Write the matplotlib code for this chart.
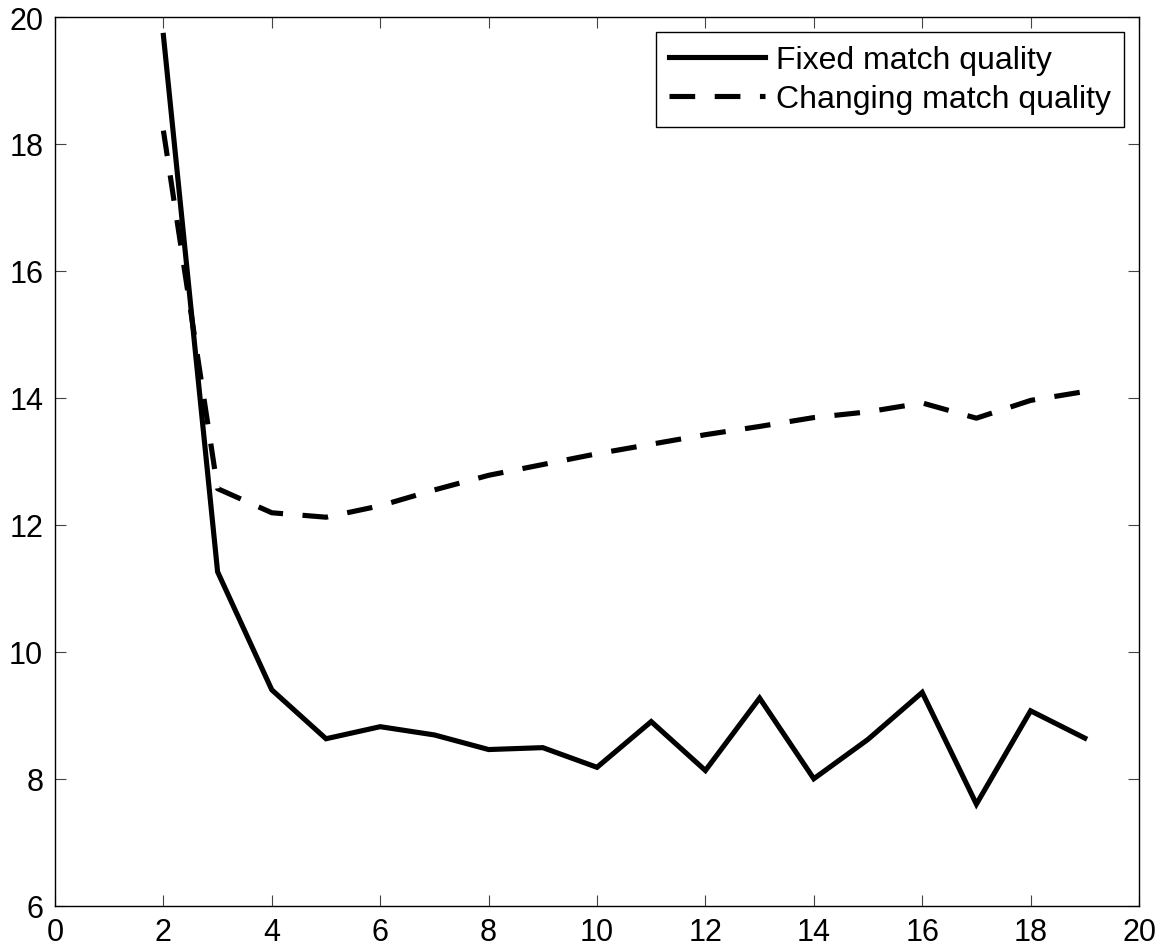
import matplotlib
matplotlib.use("Agg")
import matplotlib.pyplot as plt

plt.rcParams['font.family'] = ['Liberation Sans', 'DejaVu Sans']

x = [2, 3, 4, 5, 6, 7, 8, 9, 10, 11, 12, 13, 14, 15, 16, 17, 18, 19]
fixed = [19.71, 11.26, 9.40, 8.63, 8.82, 8.69, 8.46, 8.49, 8.18, 8.90, 8.13, 9.27,
         8.00, 8.62, 9.36, 7.60, 9.07, 8.64]
changing = [18.21, 12.57, 12.19, 12.12, 12.30, 12.55, 12.78, 12.95, 13.12, 13.27, 13.42,
            13.55, 13.69, 13.78, 13.92, 13.68, 13.96, 14.10]
labels = ["Fixed match quality", "Changing match quality"]

fig = plt.figure(figsize=(11.64, 9.53), dpi=100)
ax = fig.add_axes([55/1164, 1-906.7/953, (1139-55)/1164, (906.7-18)/953])

ax.plot(x, fixed, color='black', lw=3.7, solid_joinstyle='miter', label=labels[0])
ax.plot(x, changing, color='black', lw=3.7, linestyle=(0, (5.0, 3.8)),
        dash_capstyle='butt', label=labels[1])

ax.set_xlim(0, 20)
ax.set_ylim(6, 20)
ax.set_xticks(range(0, 21, 2))
ax.set_yticks(range(6, 21, 2))
ax.tick_params(direction='in', length=8, width=0.8, color='#444444',
               top=True, right=True, labelsize=22)
ax.tick_params(axis='x', pad=8)
ax.tick_params(axis='y', pad=8.5)
for s in ax.spines.values():
    s.set_linewidth(1.0)

leg = ax.legend(loc='upper right', fontsize=23, frameon=True, fancybox=False,
                edgecolor='black', framealpha=1, handlelength=3.0,
                borderaxespad=0.47, borderpad=0.4, labelspacing=0.3,
                handletextpad=0.35)
leg.get_frame().set_linewidth(1.0)

fig.savefig("out.png", dpi=100)
